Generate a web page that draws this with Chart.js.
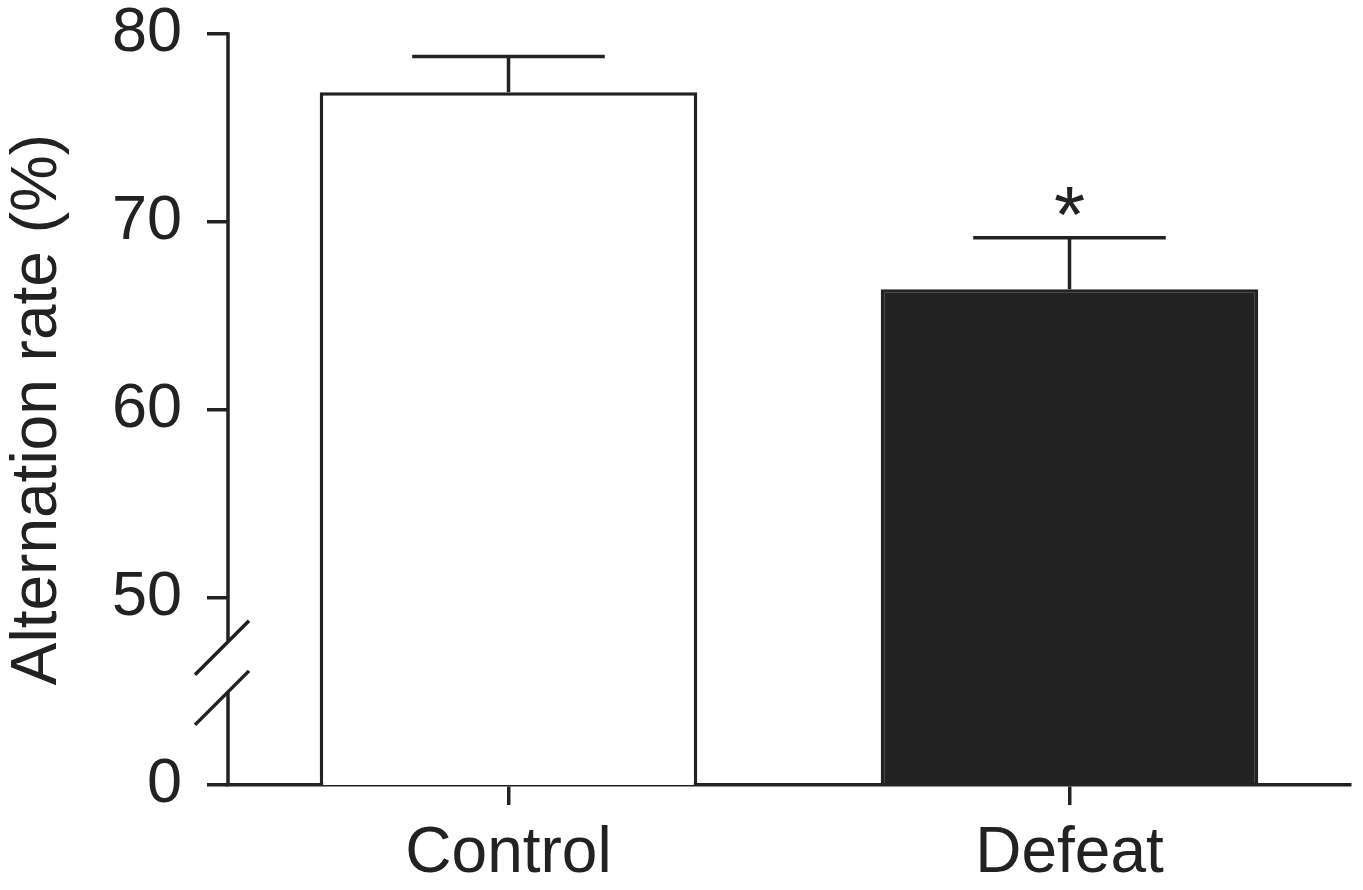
<!DOCTYPE html>
<html><head><meta charset="utf-8">
<script src="https://cdn.jsdelivr.net/npm/chart.js@4.4.1/dist/chart.umd.min.js"></script>
<style>html,body{margin:0;padding:0;background:#fff;overflow:hidden}canvas{display:block}</style>
</head><body>
<canvas id="c" width="1363" height="890"></canvas>
<script>
const categories = ['Control', 'Defeat'];
const means = [76.9, 66.4];
const sems = [1.9, 2.75];
const significance = ['', '*'];
const yTickValues = [40, 50, 60, 70, 80];
const yTickLabels = ['0', '50', '60', '70', '80'];
const axisBreak = [44.96, 47.63];
const yTitle = 'Alternation rate (%)';

const INK = '#222222';
const LW = 3.5;
const FAMILY = "'Liberation Sans', Arial, sans-serif";

const overlay = {
  id: 'overlay',
  afterDatasetsDraw(chart) {
    const ctx = chart.ctx;
    const y = chart.scales.y;
    const meta = chart.getDatasetMeta(0);
    ctx.save();
    ctx.strokeStyle = INK;
    ctx.fillStyle = INK;
    ctx.lineWidth = LW;
    ctx.lineCap = 'butt';
    meta.data.forEach((bar, i) => {
      const top = y.getPixelForValue(means[i]);
      const err = y.getPixelForValue(means[i] + sems[i]);
      const half = bar.width * 0.255;
      ctx.beginPath();
      ctx.moveTo(bar.x, top); ctx.lineTo(bar.x, err);
      ctx.moveTo(bar.x - half, err); ctx.lineTo(bar.x + half, err);
      ctx.stroke();
      if (significance[i]) {
        ctx.font = '80px ' + FAMILY;
        ctx.textAlign = 'center';
        ctx.textBaseline = 'alphabetic';
        ctx.fillText(significance[i], bar.x, err + 4);
      }
    });
    const ax = chart.chartArea.left;
    const yTop = y.getPixelForValue(y.max), yBot = y.getPixelForValue(y.min);
    const bHi = y.getPixelForValue(axisBreak[1]), bLo = y.getPixelForValue(axisBreak[0]);
    ctx.beginPath();
    ctx.moveTo(ax, yTop - LW / 2); ctx.lineTo(ax, bHi);
    ctx.moveTo(ax, bLo); ctx.lineTo(ax, yBot);
    [bHi, bLo].forEach(yb => { ctx.moveTo(ax - 33, yb + 33); ctx.lineTo(ax + 21, yb - 21); });
    ctx.stroke();
    ctx.restore();
  }
};

new Chart(document.getElementById('c'), {
  type: 'bar',
  data: {
    labels: categories,
    datasets: [{
      data: means,
      backgroundColor: ['#ffffff', INK],
      borderColor: INK,
      borderWidth: LW,
      barPercentage: 0.673,
      categoryPercentage: 1.0
    }]
  },
  options: {
    responsive: false,
    animation: false,
    events: [],
    layout: { padding: { left: 0, right: 13, top: 34, bottom: 0 } },
    plugins: { legend: { display: false }, tooltip: { enabled: false } },
    scales: {
      x: {
        type: 'category',
        grid: { display: true, drawOnChartArea: false, drawTicks: true, tickLength: 20, offset: false, color: INK, lineWidth: LW },
        border: { display: true, color: INK, width: LW },
        ticks: { color: INK, padding: 11, font: { family: FAMILY, size: 64 } },
        afterFit: s => { s.height = 105; s.paddingLeft = 0; s.paddingRight = 0; }
      },
      y: {
        min: 40, max: 80,
        afterBuildTicks: s => { s.ticks = yTickValues.map(v => ({ value: v })); },
        grid: { display: true, drawOnChartArea: false, drawTicks: true, tickLength: 21, color: INK, lineWidth: LW },
        border: { display: false },
        ticks: {
          color: INK, padding: 25,
          font: { family: FAMILY, size: 63, lineHeight: 1.0 },
          callback: (v, i) => yTickLabels[i]
        },
        title: { display: true, text: yTitle, color: INK, padding: 0, font: { family: FAMILY, size: 64 } },
        afterFit: s => { s.width = 228; s.paddingTop = 0; s.paddingBottom = 0; }
      }
    }
  },
  plugins: [overlay]
});
</script>
</body></html>
